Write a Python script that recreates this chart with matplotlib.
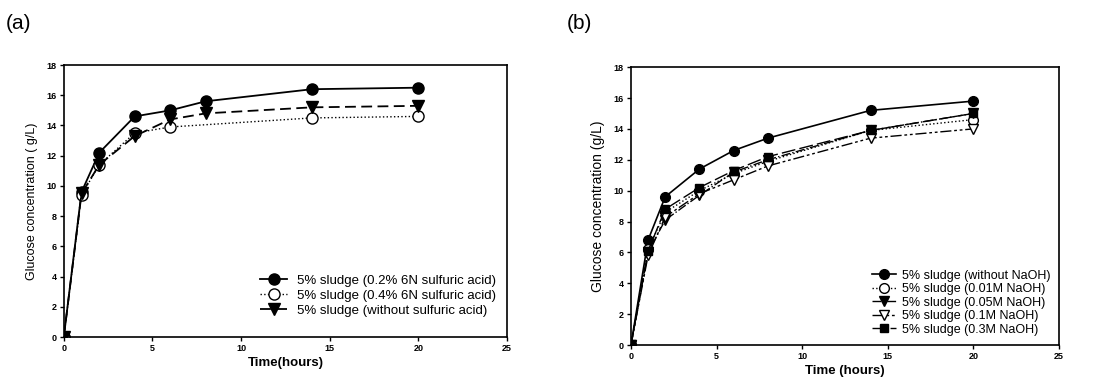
import matplotlib.pyplot as plt

# Datos panel (a)
t_a = [0, 1, 2, 4, 6, 8, 14, 20]
acido_02 = [0, 9.6, 12.2, 14.6, 15.0, 15.6, 16.4, 16.5]
t_a2 = [0, 1, 2, 4, 6, 14, 20]
acido_04 = [0, 9.4, 11.4, 13.5, 13.9, 14.5, 14.6]
sin_acido = [0, 9.5, 11.4, 13.3, 14.4, 14.8, 15.2, 15.3]

# Datos panel (b)
t_b = [0, 1, 2, 4, 6, 8, 14, 20]
sin_naoh = [0, 6.8, 9.6, 11.4, 12.6, 13.4, 15.2, 15.8]
naoh_001 = [0, 6.2, 8.6, 10.0, 11.1, 11.9, 13.9, 14.6]
naoh_005 = [0, 6.0, 8.1, 9.7, 11.2, 12.0, 13.9, 15.0]
naoh_01 = [0, 5.8, 8.3, 9.8, 10.7, 11.6, 13.4, 14.0]
naoh_03 = [0, 6.1, 8.8, 10.2, 11.3, 12.2, 13.9, 15.0]

x_ticks = [0, 5, 10, 15, 20, 25]
y_ticks = [0, 2, 4, 6, 8, 10, 12, 14, 16, 18]

plt.rcParams['font.family'] = ['Liberation Sans', 'DejaVu Sans']

fig = plt.figure(figsize=(11, 3.87), dpi=100)
ax1 = fig.add_axes([0.058, 0.129, 0.403, 0.703])
ax2 = fig.add_axes([0.5736, 0.1085, 0.389, 0.718])

k = 'black'
ax1.plot(t_a, acido_02, '-', color=k, lw=1.3, marker='o', ms=8, mfc=k,
         label='5% sludge (0.2% 6N sulfuric acid)')
ax1.plot(t_a2, acido_04, ':', color=k, lw=1.0, marker='o', ms=8, mfc='white',
         label='5% sludge (0.4% 6N sulfuric acid)')
ax1.plot(t_a, sin_acido, '--', color=k, lw=1.3, marker='v', ms=8, mfc=k,
         dashes=(6, 3), label='5% sludge (without sulfuric acid)')

ax2.plot(t_b, sin_naoh, '-', color=k, lw=1.2, marker='o', ms=7, mfc=k,
         label='5% sludge (without NaOH)')
ax2.plot(t_b, naoh_001, ':', color=k, lw=1.0, marker='o', ms=7, mfc='white',
         label='5% sludge (0.01M NaOH)')
ax2.plot(t_b, naoh_005, '-.', color=k, lw=1.0, marker='v', ms=7, mfc=k,
         label='5% sludge (0.05M NaOH)')
ax2.plot(t_b, naoh_01, color=k, lw=1.0, marker='v', ms=7, mfc='white',
         dashes=(8, 2, 2, 2, 2, 2), label='5% sludge (0.1M NaOH)')
ax2.plot(t_b, naoh_03, color=k, lw=1.0, marker='s', ms=6, mfc=k,
         dashes=(10, 3), label='5% sludge (0.3M NaOH)')

for ax, ylab, xlab, yfs in [(ax1, 'Glucose concentration ( g/L)', 'Time(hours)', 9),
                            (ax2, 'Glucose concentration (g/L)', 'Time (hours)', 10)]:
    ax.set_xlim(0, 25)
    ax.set_ylim(0, 18)
    ax.set_xticks(x_ticks)
    ax.set_yticks(y_ticks)
    ax.tick_params(direction='out', length=3, width=1, labelsize=6.5, pad=2)
    for lab in ax.get_xticklabels() + ax.get_yticklabels():
        lab.set_fontweight('bold')
    for s in ax.spines.values():
        s.set_linewidth(1.2)
    ax.set_ylabel(ylab, fontsize=yfs, labelpad=6)
    ax.set_xlabel(xlab, fontsize=9.5, fontweight='bold', labelpad=3)
    ax.set_clip_on(False)

ax1.legend(loc='lower right', frameon=False, fontsize=9.5, handlelength=2.1,
           handletextpad=0.7, labelspacing=0.2, borderaxespad=0,
           bbox_to_anchor=(0.986, 0.055))
ax2.legend(loc='lower right', frameon=False, fontsize=9, handlelength=1.9,
           handletextpad=0.5, labelspacing=0.12, borderaxespad=0,
           bbox_to_anchor=(0.993, 0.015))

fig.text(0.005, 0.925, '(a)', fontsize=15)
fig.text(0.515, 0.925, '(b)', fontsize=15)

fig.savefig('out.png', dpi=100)
